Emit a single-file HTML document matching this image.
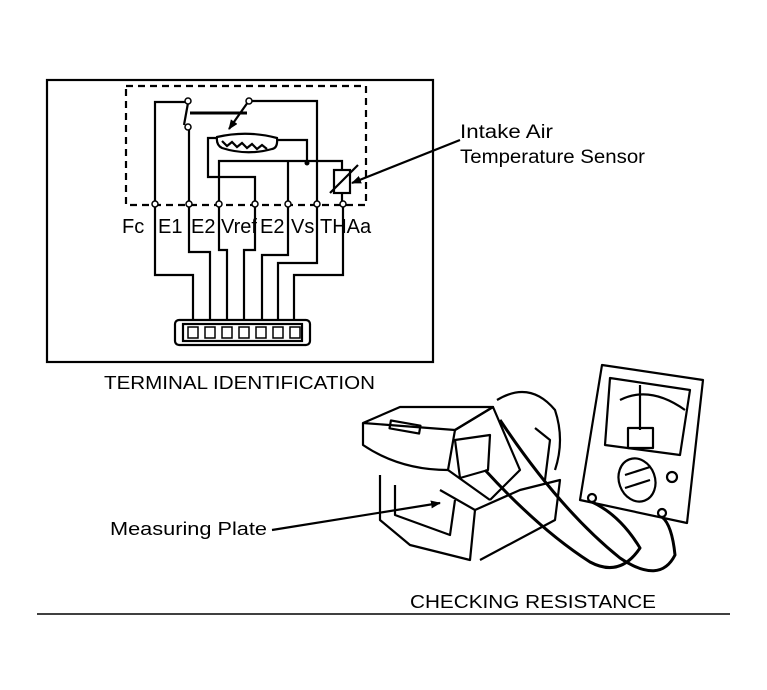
<!DOCTYPE html>
<html><head><style>
body{margin:0;background:#fff;width:767px;height:690px;overflow:hidden}
svg{display:block}
text{font-family:"Liberation Sans",sans-serif;fill:#000}
</style></head><body>
<svg width="767" height="690" viewBox="0 0 767 690" xmlns="http://www.w3.org/2000/svg">
<defs><marker id="ah" markerWidth="10" markerHeight="8" refX="9" refY="4" orient="auto" markerUnits="userSpaceOnUse"><path d="M0,0 L10,4 L0,8Z" fill="#000"/></marker></defs>
<g fill="none" stroke="#000" stroke-width="2.2">
<rect x="47" y="80" width="386" height="282"/>
<rect x="126" y="86" width="240" height="119" stroke-dasharray="7,5"/>
<polyline points="155,204 155,102 186,102"/>
<polyline points="189,204 189,128"/>
<line x1="188" y1="103" x2="184" y2="125"/>
<line x1="190" y1="113" x2="247" y2="113" stroke-width="3"/>
<line x1="248" y1="102" x2="229" y2="129" marker-end="url(#ah)"/>
<polyline points="250,101 317,101 317,204"/>
<path d="M217,137 Q247,130 277,138 Q278,148 272,149 Q247,156 222,148 Q216,145 217,137Z"/>
<path d="M222,141 l5,5 l5,-4 l5,5 l5,-4 l5,5 l5,-4 l5,5 l5,-4 l5,4"/>
<polyline points="217,138 208,138 208,177 255,177 255,204"/>
<polyline points="277,140 307,140 307,163"/>
<polyline points="219,204 219,161 342,161 342,170"/>
<line x1="288" y1="161" x2="288" y2="204"/>
<rect x="334" y="170" width="16" height="23"/>
<line x1="330" y1="193" x2="358" y2="165"/>
<line x1="342" y1="193" x2="342" y2="204"/>
<line x1="460" y1="140" x2="352" y2="183" marker-end="url(#ah)"/>
<polyline points="155,204 155,275 193,275 193,320"/>
<polyline points="189,204 189,252 210,252 210,320"/>
<polyline points="219,204 219,250 227,250 227,320"/>
<polyline points="255,204 255,250 244,250 244,320"/>
<polyline points="288,204 288,255 262,255 262,320"/>
<polyline points="317,204 317,263 278,263 278,320"/>
<polyline points="343,204 343,275 294,275 294,320"/>
<rect x="175" y="320" width="135" height="25" rx="4"/>
<rect x="183" y="324" width="119" height="17"/>
<line x1="37" y1="614" x2="730" y2="614" stroke-width="1.5"/>
<line x1="272" y1="530" x2="440" y2="503" marker-end="url(#ah)"/>
</g>
<g fill="#fff" stroke="#000" stroke-width="1.5">
<circle cx="155" cy="204" r="3"/><circle cx="189" cy="204" r="3"/><circle cx="219" cy="204" r="3"/>
<circle cx="255" cy="204" r="3"/><circle cx="288" cy="204" r="3"/><circle cx="317" cy="204" r="3"/><circle cx="343" cy="204" r="3"/>
<circle cx="188" cy="101" r="3"/><circle cx="188" cy="127" r="3"/><circle cx="249" cy="101" r="3"/>
<rect x="188" y="327" width="10" height="11"/><rect x="205" y="327" width="10" height="11"/><rect x="222" y="327" width="10" height="11"/>
<rect x="239" y="327" width="10" height="11"/><rect x="256" y="327" width="10" height="11"/><rect x="273" y="327" width="10" height="11"/><rect x="290" y="327" width="10" height="11"/>
</g>
<circle cx="307" cy="163" r="2.5"/>
<text x="122" y="233" font-size="20">Fc</text>
<text x="158" y="233" font-size="20">E1</text>
<text x="191" y="233" font-size="20">E2</text>
<text x="221" y="233" font-size="20">Vref</text>
<text x="260" y="233" font-size="20">E2</text>
<text x="291" y="233" font-size="20">Vs</text>
<text x="320" y="233" font-size="20">THAa</text>
<text x="460" y="138" font-size="19" textLength="93" lengthAdjust="spacingAndGlyphs">Intake Air</text>
<text x="460" y="163" font-size="19" textLength="185" lengthAdjust="spacingAndGlyphs">Temperature Sensor</text>
<text x="104" y="389" font-size="18" textLength="271" lengthAdjust="spacingAndGlyphs">TERMINAL IDENTIFICATION</text>
<text x="110" y="535" font-size="18" textLength="157" lengthAdjust="spacingAndGlyphs">Measuring Plate</text>
<text x="410" y="608" font-size="18" textLength="246" lengthAdjust="spacingAndGlyphs">CHECKING RESISTANCE</text>
<g fill="none" stroke="#000" stroke-width="2.2" stroke-linejoin="round">
<path d="M497,400 Q530,380 555,410 Q565,440 555,470"/>
<path d="M363,423 L400,407 L493,407 L455,430 Z"/>
<path d="M363,423 L363,445 Q400,470 448,470 L455,430"/>
<path d="M455,430 L493,407 L520,470 L490,500"/>
<path d="M448,470 L490,500"/>
<rect x="390" y="423" width="30" height="8" transform="rotate(10 405 427)"/>
<path d="M455,440 L490,435 L488,470 L460,478 Z"/>
<path d="M380,475 L380,520 L410,545 L470,560 L475,510 L440,490"/>
<path d="M475,510 L520,490 L560,480 L555,520 L480,560"/>
<path d="M395,485 L395,515 L450,535 L455,500"/>
<path d="M535,428 L550,440 L545,480"/>
<path d="M602,365 L703,380 L687,523 L580,500 Z"/>
<path d="M610,378 L690,390 L680,455 L605,445 Z"/>
<path d="M620,400 Q650,385 685,410"/>
<line x1="640" y1="385" x2="640" y2="430"/>
<rect x="628" y="428" width="25" height="20"/>
<ellipse cx="637" cy="480" rx="18" ry="22" transform="rotate(-20 637 480)"/>
<line x1="625" y1="475" x2="650" y2="467"/><line x1="625" y1="488" x2="650" y2="480"/>
<circle cx="672" cy="477" r="5"/>
<circle cx="592" cy="498" r="4"/><circle cx="662" cy="513" r="4"/>
<path d="M485,470 Q540,530 590,562 Q620,578 640,548 Q620,515 592,502" stroke-width="3"/>
<path d="M500,420 Q560,510 620,558 Q660,585 675,555 Q672,525 662,517" stroke-width="3"/>
</g>
</svg>
</body></html>
